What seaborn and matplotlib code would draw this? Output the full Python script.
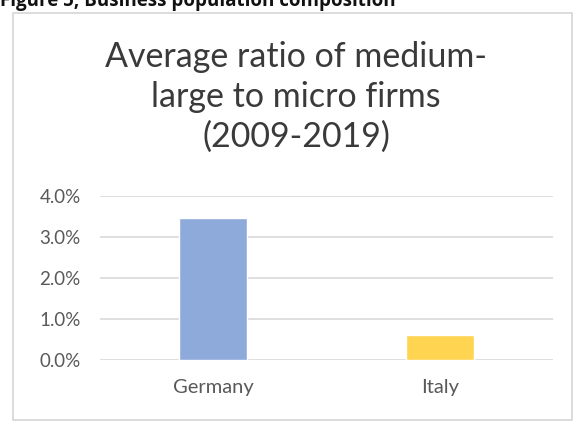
import matplotlib
matplotlib.use("Agg")
import matplotlib.pyplot as plt
import matplotlib.patches as mpatches
from matplotlib.ticker import FuncFormatter
import seaborn as sns
import pandas as pd

countries = ["Germany", "Italy"]
avg_ratio = [3.46, 0.61]  # percent
bar_colors = ["#8eaadb", "#ffd450"]
y_ticks = [0, 1, 2, 3, 4]

sns.set_theme(style="white")
plt.rcParams["font.family"] = ["Lato", "DejaVu Sans"]

W, H = 579, 421
fig = plt.figure(figsize=(W / 100, H / 100), dpi=100)
fig.patch.set_facecolor("white")

# chart frame
frame = mpatches.Rectangle((13 / W, 1 / H), (572 - 13) / W, (408 - 1) / H,
                           transform=fig.transFigure, facecolor="white",
                           edgecolor="#d6d6d6", linewidth=1.2, zorder=-5)
fig.patches.append(frame)

fig.text(0.0, 1 - 1 / H, "Figure 5, Business population composition",
         ha="left", va="center", fontsize=13.5, fontweight="bold", color="#111111",
         family=["Open Sans", "DejaVu Sans"])

ax = fig.add_axes([100 / W, 61 / H, (553 - 100) / W, 164 / H])
ax.set_zorder(2)
ax.patch.set_alpha(0)
df = pd.DataFrame({"country": countries, "ratio": avg_ratio})
sns.barplot(data=df, x="country", y="ratio", hue="country", palette=bar_colors,
            width=0.3, legend=False, ax=ax, zorder=3, saturation=1)

ax.set_ylim(0, 4)
ax.set_yticks(y_ticks)
ax.yaxis.set_major_formatter(FuncFormatter(lambda v, _: f"{v:.1f}%"))
ax.grid(axis="y", color="#d9d9d9", linewidth=1.2, zorder=0)
ax.set_axisbelow(True)
for s in ax.spines.values():
    s.set_visible(False)
ax.set_xlabel("")
ax.set_ylabel("")
ax.tick_params(axis="y", labelsize=13.5, labelcolor="#595959", pad=14, length=0)
ax.tick_params(axis="x", labelsize=14.5, labelcolor="#595959", pad=14, length=0)

fig.text(296 / W, 1 - 97 / H,
         "Average ratio of medium-\nlarge to micro firms\n(2009-2019)",
         ha="center", va="center", fontsize=24.5, color="#3a3a3a",
         linespacing=1.3)

fig.savefig("out.png", dpi=100)
